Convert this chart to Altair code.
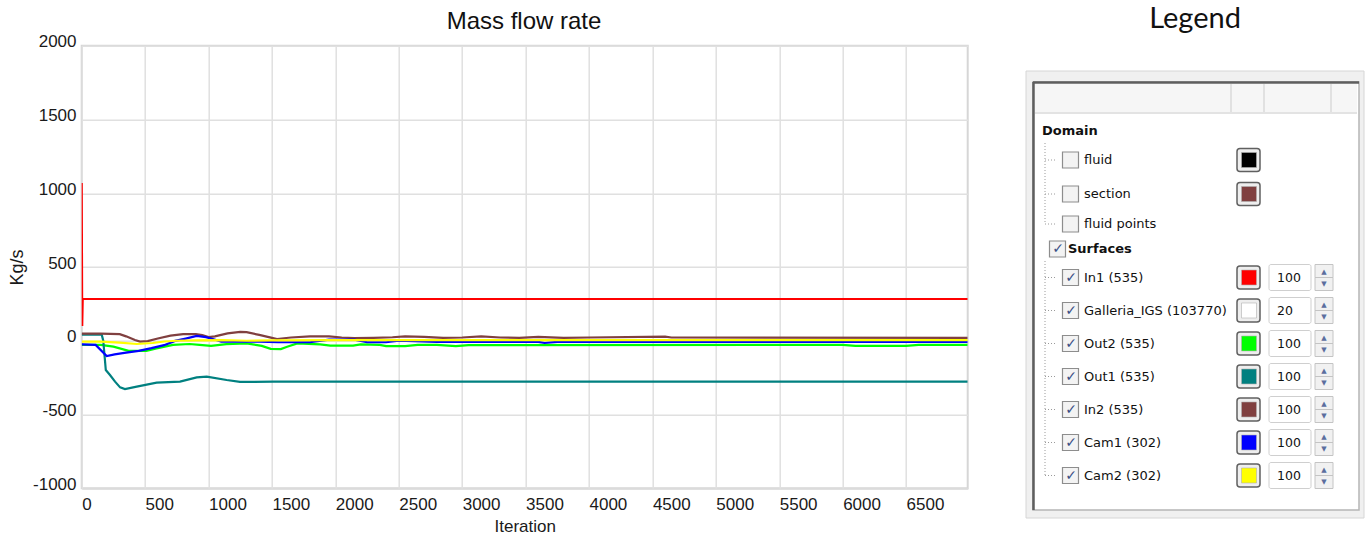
import altair as alt
import pandas as pd

# ---------------- Mass flow rate data ----------------
series_names = ["In1 (535)", "Out2 (535)", "Out1 (535)", "In2 (535)", "Cam1 (302)", "Cam2 (302)"]
series_colors = ["#ff0000", "#00ff00", "#008080", "#804040", "#0000ff", "#ffff00"]

in1_iter = [0, 4, 8, 6986]
in1_val = [1070, 100, 283, 283]

out2_iter = [0, 150, 250, 370, 510, 590, 720, 850, 930, 1020, 1140, 1300, 1420, 1490, 1570, 1620, 1700,
             1880, 1960, 2140, 2200, 2350, 2400, 2550, 2650, 2800, 2950, 3050, 6000, 6100, 6500, 6600, 6986]
out2_val = [-28, -28, -40, -68, -68, -52, -28, -22, -28, -35, -23, -18, -35, -55, -56, -40, -18,
            -25, -33, -33, -25, -28, -36, -36, -28, -28, -36, -30, -28, -35, -35, -28, -28]

out1_iter = [0, 158, 170, 190, 223, 263, 303, 341, 434, 591, 775, 907, 986, 1143, 1248, 1511, 6986]
out1_val = [41, 41, 0, -198, -232, -277, -316, -327, -311, -284, -277, -248, -243, -266, -279, -277, -277]

in2_iter = [0, 150, 300, 350, 420, 460, 520, 600, 700, 800, 900, 950, 1000, 1050, 1150, 1250, 1300, 1400,
            1500, 1540, 1650, 1800, 1950, 2050, 2150, 2300, 2450, 2550, 2700, 2850, 3000, 3150, 3300, 3450,
            3600, 3800, 4000, 4600, 4650, 6986]
in2_val = [48, 48, 45, 30, 5, -6, -2, 15, 35, 45, 45, 38, 25, 30, 50, 60, 58, 40,
           20, 12, 22, 30, 30, 22, 18, 20, 24, 30, 26, 20, 22, 30, 22, 20,
           26, 20, 22, 28, 22, 20]

cam1_iter = [0, 110, 197, 260, 350, 450, 550, 650, 736, 820, 907, 980, 1060, 1100, 1400, 1550, 1800,
             1950, 2150, 2250, 2400, 2500, 2800, 3600, 3650, 3750, 6986]
cam1_val = [-25, -28, -103, -92, -80, -68, -50, -30, -1, 15, 33, 25, 5, -6, -6, -10, -10,
            8, 8, -10, -10, 0, -8, -8, -15, -8, -8]

cam2_iter = [0, 150, 300, 434, 560, 650, 750, 900, 1100, 1300, 1500, 2000, 6986]
cam2_val = [-6, -6, -12, -22, -15, -5, 0, 3, 5, 0, 3, 5, 5]

x_ticks = list(range(0, 7000, 500))
y_ticks = [-1000, -500, 0, 500, 1000, 1500, 2000]

chart_title = "Mass flow rate"
legend_title = "Legend"

# ---------------- legend panel content ----------------
legend_labels = ["Domain", "fluid", "section", "fluid points", "Surfaces", "In1 (535)",
                 "Galleria_IGS (103770)", "Out2 (535)", "Out1 (535)", "In2 (535)", "Cam1 (302)", "Cam2 (302)"]
legend_is_group = [True, False, False, False, True, False, False, False, False, False, False, False]
legend_checked = [False, False, False, False, True, True, True, True, True, True, True, True]
legend_swatch = [None, "#000000", "#804040", None, None, "#ff0000", "#ffffff", "#00ff00",
                 "#008080", "#804040", "#0000ff", "#ffff00"]
legend_opacity = [None, None, None, None, None, 100, 20, 100, 100, 100, 100, 100]

# ---------------- build tables ----------------
series_iters = [in1_iter, out2_iter, out1_iter, in2_iter, cam1_iter, cam2_iter]
series_vals = [in1_val, out2_val, out1_val, in2_val, cam1_val, cam2_val]
rows = []
for name, its, vs in zip(series_names, series_iters, series_vals):
    for i, (it, v) in enumerate(zip(its, vs)):
        rows.append({"series": name, "iteration": it, "value": v, "idx": i})
df_lines = pd.DataFrame(rows)

L, T, W, H = 81.7, 45.7, 886.0, 442.6
PAGE_W, PAGE_H = 1371, 536

# legend row layout (tree widget rows)
leg = []
top = 119.0
for lab, grp, chk, sw, op in zip(legend_labels, legend_is_group, legend_checked, legend_swatch, legend_opacity):
    h = 24 if grp else (33 if op is not None else (34 if sw is not None else 26))
    cy = top + h / 2
    top += h
    leg.append({"label": lab, "group": grp, "checked": chk, "swatch": sw,
                "opacity": "" if op is None else str(op), "cy": cy})
leg = pd.DataFrame(leg)
leg["has_cb"] = leg["label"] != "Domain"
leg["cb_x1"] = leg["group"].map({True: 1049.5, False: 1062.5})
leg["cb_x2"] = leg["cb_x1"] + 16
leg["cb_cx"] = leg["cb_x1"] + 8.5
leg["tx"] = 1084.0
leg.loc[leg["label"] == "Domain", "tx"] = 1042.0
leg.loc[leg["label"] == "Surfaces", "tx"] = 1068.0
leg["y1"] = leg["cy"] - 8
leg["y2"] = leg["cy"] + 8
leg["sw_y1"] = leg["cy"] - 11.5
leg["sw_y2"] = leg["cy"] + 11.5
leg["in_y1"] = leg["cy"] - 7.5
leg["in_y2"] = leg["cy"] + 7.5
leg["nb_y1"] = leg["cy"] - 13
leg["nb_y2"] = leg["cy"] + 13
leg["up_y"] = leg["cy"] - 6
leg["dn_y"] = leg["cy"] + 6
leg["stub_x1"] = 1045.0
leg["stub_x2"] = 1055.0

items = leg[~leg["group"]]
cbs = leg[leg["has_cb"]]
checked = leg[leg["checked"]]
sw = leg[leg["swatch"].notna()]
nums = leg[leg["opacity"] != ""]

PXS = alt.Scale(domain=[0, PAGE_W], range=[-L, PAGE_W - L], nice=False, zero=False)
PYS = alt.Scale(domain=[0, PAGE_H], range=[-T, PAGE_H - T], nice=False, zero=False)


def px(f):
    return alt.X(f + ":Q", scale=PXS, axis=None)


def py(f):
    return alt.Y(f + ":Q", scale=PYS, axis=None)


def box(df, x1, x2, y1, y2, **kw):
    return alt.Chart(df).mark_rect(**kw).encode(x=px(x1), x2=x2 + ":Q", y=py(y1), y2=y2 + ":Q")


def one(**kw):
    return pd.DataFrame([kw])


# ---------------- main chart ----------------
lines = alt.Chart(df_lines).mark_line(strokeWidth=2.2, clip=True).encode(
    x=alt.X("iteration:Q",
            scale=alt.Scale(domain=[0, 6986], nice=False, zero=False),
            axis=alt.Axis(values=x_ticks, title="Iteration", labelAlign="left", labelBaseline="alphabetic",
                          labelPadding=20.7, labelFlush=False, labelOverlap=False,
                          labelExpr="datum.value + ''",
                          titleY=42.7, titleBaseline="alphabetic", titleFontSize=17)),
    y=alt.Y("value:Q",
            scale=alt.Scale(domain=[-1000, 2000], nice=False),
            axis=alt.Axis(values=y_ticks, title="Kg/s", labelAlign="right", labelBaseline="middle",
                          labelOffset=-4, labelPadding=5.7, labelOverlap=False,
                          labelExpr="datum.value + ''",
                          titleX=-64, titleY=221.3, titleAngle=-90, titleAlign="center",
                          titleBaseline="middle", titleFontSize=18)),
    color=alt.Color("series:N", scale=alt.Scale(domain=series_names, range=series_colors), legend=None),
    detail="series:N",
    order=alt.Order("idx:Q"),
)

# ---------------- titles as text ----------------
layers = []
layers.append(alt.Chart(one(t=chart_title, x=524, y=29)).mark_text(
    font="Liberation Sans", fontSize=24, color="#111111", align="center", baseline="alphabetic").encode(
    x=px("x"), y=py("y"), text="t:N"))
layers.append(alt.Chart(one(t=legend_title, x=1195, y=28)).mark_text(
    font="Lato", fontSize=29, color="#111111", align="center", baseline="alphabetic").encode(
    x=px("x"), y=py("y"), text="t:N"))

# ---------------- legend panel (GUI-like) ----------------
layers.append(box(one(a=1026, b=1364, c=71, d=518), "a", "b", "c", "d", fill="#f0f0f0", stroke="#d6d6d6", strokeWidth=1))
layers.append(box(one(a=1033, b=1359, c=82, d=510), "a", "b", "c", "d", fill="#ffffff", stroke="#b5b5b5", strokeWidth=1.5))
layers.append(alt.Chart(pd.DataFrame([{"a": 1033.5, "b": 1033.5, "c": 82, "d": 510},
                                      {"a": 1033, "b": 1359, "c": 82.5, "d": 82.5}])).mark_rule(
    color="#5e5e5e", strokeWidth=2.5).encode(x=px("a"), x2="b:Q", y=py("c"), y2="d:Q"))
layers.append(box(one(a=1035, b=1357, c=84, d=112), "a", "b", "c", "d", fill="#f6f6f6"))
layers.append(alt.Chart(pd.DataFrame([{"a": 1035, "b": 1357, "c": 113, "d": 113},
                                      {"a": 1231, "b": 1231, "c": 84, "d": 112},
                                      {"a": 1264, "b": 1264, "c": 84, "d": 112},
                                      {"a": 1331, "b": 1331, "c": 84, "d": 112}])).mark_rule(
    color="#dadada", strokeWidth=1.5).encode(x=px("a"), x2="b:Q", y=py("c"), y2="d:Q"))
# tree dotted lines
layers.append(alt.Chart(pd.DataFrame([{"a": 1045, "b": 1045, "c": 143, "d": 224},
                                      {"a": 1045, "b": 1045, "c": 261, "d": 476}])).mark_rule(
    color="#9a9a9a", strokeWidth=1, strokeDash=[1, 2]).encode(x=px("a"), x2="b:Q", y=py("c"), y2="d:Q"))
layers.append(alt.Chart(items).mark_rule(color="#9a9a9a", strokeWidth=1, strokeDash=[1, 2]).encode(
    x=px("stub_x1"), x2="stub_x2:Q", y=py("cy")))
# checkboxes
layers.append(box(cbs, "cb_x1", "cb_x2", "y1", "y2", fill="#f3f3f3", stroke="#8d8d8d", strokeWidth=1.2))
layers.append(alt.Chart(checked).mark_text(font="DejaVu Sans", fontSize=14, fontWeight="bold",
                                           color="#3c4f86", align="center", baseline="middle").encode(
    x=px("cb_cx"), y=py("cy"), text=alt.value("\u2713")))
# labels
layers.append(alt.Chart(leg[leg["group"]]).mark_text(font="DejaVu Sans", fontSize=13, fontWeight="bold",
                                                     color="#111111", align="left", baseline="middle").encode(
    x=px("tx"), y=py("cy"), text="label:N"))
layers.append(alt.Chart(items).mark_text(font="DejaVu Sans", fontSize=13, color="#111111",
                                         align="left", baseline="middle").encode(
    x=px("tx"), y=py("cy"), text="label:N"))
# colour swatches
layers.append(alt.Chart(sw).mark_rect(fill="#eeeeee", stroke="#606060", strokeWidth=1.5, cornerRadius=3).encode(
    x=alt.X("a:Q", scale=PXS, axis=None), x2="b:Q", y=py("sw_y1"), y2="sw_y2:Q").transform_calculate(
    a="1237", b="1260"))
layers.append(alt.Chart(sw).mark_rect(stroke="#b0b0b0", strokeWidth=0.6).encode(
    x=alt.X("a:Q", scale=PXS, axis=None), x2="b:Q", y=py("in_y1"), y2="in_y2:Q",
    color=alt.Color("swatch:N", scale=None)).transform_calculate(a="1241.5", b="1256.5"))
# opacity number boxes and spinners
layers.append(alt.Chart(nums).mark_rect(fill="#ffffff", stroke="#cfcfcf", strokeWidth=1, cornerRadius=2).encode(
    x=alt.X("a:Q", scale=PXS, axis=None), x2="b:Q", y=py("nb_y1"), y2="nb_y2:Q").transform_calculate(
    a="1269", b="1311"))
layers.append(alt.Chart(nums).mark_text(font="DejaVu Sans", fontSize=12.5, color="#111111",
                                        align="left", baseline="middle").encode(
    x=alt.X("a:Q", scale=PXS, axis=None), y=py("cy"), text="opacity:N").transform_calculate(a="1277"))
layers.append(alt.Chart(nums).mark_rect(fill="#f1f1f1", stroke="#c4c4c4", strokeWidth=1).encode(
    x=alt.X("a:Q", scale=PXS, axis=None), x2="b:Q", y=py("nb_y1"), y2="cy:Q").transform_calculate(
    a="1315", b="1333"))
layers.append(alt.Chart(nums).mark_rect(fill="#f1f1f1", stroke="#c4c4c4", strokeWidth=1).encode(
    x=alt.X("a:Q", scale=PXS, axis=None), x2="b:Q", y=py("cy"), y2="nb_y2:Q").transform_calculate(
    a="1315", b="1333"))
layers.append(alt.Chart(nums).mark_text(font="DejaVu Sans", fontSize=7, color="#5b6e9e",
                                        align="center", baseline="middle").encode(
    x=alt.X("a:Q", scale=PXS, axis=None), y=py("up_y"), text=alt.value("\u25b2")).transform_calculate(a="1324"))
layers.append(alt.Chart(nums).mark_text(font="DejaVu Sans", fontSize=7, color="#5b6e9e",
                                        align="center", baseline="middle").encode(
    x=alt.X("a:Q", scale=PXS, axis=None), y=py("dn_y"), text=alt.value("\u25bc")).transform_calculate(a="1324"))

chart = alt.layer(lines, *layers).resolve_scale(
    x="independent", y="independent", color="independent"
).properties(
    width=W, height=H,
    autosize=alt.AutoSizeParams(type="none"),
    padding={"left": L, "top": T, "right": PAGE_W - L - W, "bottom": PAGE_H - T - H},
    background="#ffffff",
).configure_view(
    stroke="#d6d6d6", strokeWidth=2
).configure_axis(
    labelFont="Liberation Sans", labelFontSize=17, labelColor="#1a1a1a",
    titleFont="Liberation Sans", titleFontWeight="normal", titleColor="#1a1a1a",
    grid=True, gridColor="#e0e0e0", gridWidth=1.5, domain=False, ticks=False,
)

chart.save("out.html", embed_options={"renderer": "svg", "actions": False})
